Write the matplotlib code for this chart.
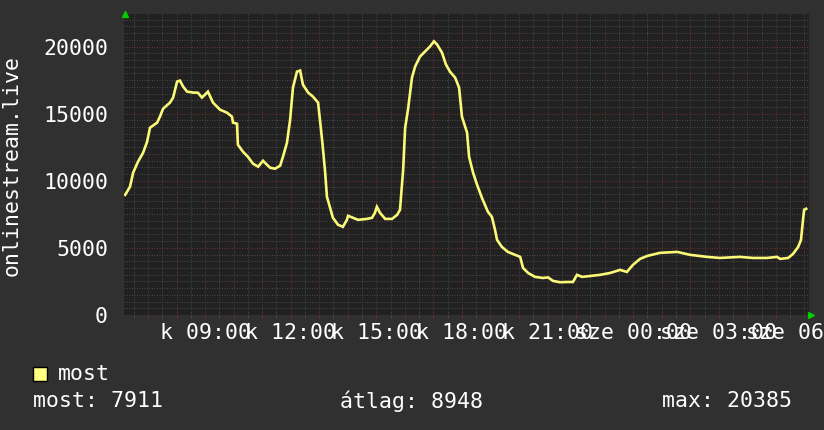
import matplotlib
matplotlib.use("Agg")
import matplotlib.pyplot as plt
from matplotlib.ticker import MultipleLocator, FixedLocator

# ---- data (hours since midnight of first day, viewers) ----
hours = [6.20, 6.37, 6.48, 6.65, 6.83, 6.97, 7.07, 7.32, 7.42, 7.53, 7.77, 7.88,
         8.02, 8.12, 8.23, 8.37, 8.58, 8.75, 8.89, 9.00, 9.10, 9.28, 9.52, 9.77,
         9.94, 9.98, 10.12, 10.15, 10.33, 10.50, 10.68, 10.86, 11.03, 11.17, 11.28,
         11.45, 11.63, 11.73, 11.87, 11.98, 12.08, 12.22, 12.33, 12.43, 12.61, 12.78,
         12.96, 13.10, 13.20, 13.27, 13.38, 13.48, 13.66, 13.83, 13.97, 14.01, 14.18,
         14.36, 14.67, 14.85, 14.95, 15.02, 15.13, 15.31, 15.55, 15.73, 15.83, 15.94,
         16.01, 16.11, 16.25, 16.36, 16.53, 16.71, 16.88, 17.02, 17.13, 17.30, 17.44,
         17.58, 17.76, 17.90, 18.00, 18.18, 18.25, 18.39, 18.53, 18.70, 18.91, 19.05,
         19.16, 19.23, 19.40, 19.61, 19.86, 20.04, 20.14, 20.32, 20.56, 20.84, 21.02,
         21.19, 21.44, 21.68, 21.89, 22.03, 22.21, 22.49, 22.84, 23.19, 23.54, 23.78,
         23.99, 24.24, 24.49, 24.94, 25.54, 26.00, 26.59, 27.04, 27.74, 28.20, 28.69,
         29.04, 29.15, 29.43, 29.60, 29.78, 29.88, 29.95, 29.99, 30.06]
values = [8950, 9550, 10600, 11420, 12090, 12910, 13950, 14330, 14780, 15370, 15820, 16190,
          17390, 17460, 17020, 16640, 16570, 16560, 16200, 16420, 16640, 15820, 15300, 15070,
          14780, 14330, 14250, 12690, 12160, 11790, 11270, 11050, 11490, 11190, 10970,
          10900, 11120, 11790, 12840, 14550, 16940, 18130, 18210, 17160, 16570, 16270,
          15820, 13060, 10820, 8810, 7990, 7240, 6720, 6570, 7090, 7390, 7240,
          7090, 7160, 7240, 7610, 8060, 7610, 7160, 7160, 7460, 7840, 10820,
          13950, 15300, 17690, 18510, 19250, 19630, 20000, 20385, 20150, 19550, 18660,
          18130, 17690, 16940, 14780, 13580, 11790, 10600, 9700, 8730, 7690, 7310,
          6340, 5600, 5070, 4700, 4480, 4330, 3510, 3130, 2840, 2760, 2800,
          2540, 2440, 2460, 2460, 2990, 2840, 2910, 2990, 3130, 3360, 3210,
          3730, 4180, 4400, 4630, 4700, 4480, 4330, 4250, 4330, 4250, 4250,
          4330, 4180, 4250, 4550, 5070, 5600, 7090, 7840, 7911]

x_start, x_end = 6.16, 30.16
y_max = 22423.5
y_ticks = [0, 5000, 10000, 15000, 20000]
x_label_hours = [9, 12, 15, 18, 21, 24, 27, 30]
x_labels = ["k 09:00", "k 12:00", "k 15:00", "k 18:00", "k 21:00",
            "sze 00:00", "sze 03:00", "sze 06:00"]
series_name = "most"
y_title = "onlinestream.live"
stats = [("most: 7911", 33), ("átlag: 8948", 340), ("max: 20385", 662)]

# ---- styling ----
W, H = 824, 430
CANVAS = "#303030"
BACK = "#212121"
FONT = "#ffffff"
LINE = "#fafa78"
MINOR = "#474747"
MAJOR = "#6a2e2e"
FS = 15.5
plt.rcParams["font.family"] = ["DejaVu Sans Mono"]

fig = plt.figure(figsize=(W / 100, H / 100), dpi=100, facecolor=CANVAS)
L, R, T, B = 124, 809, 14, 315
ax = fig.add_axes([L / W, 1 - B / H, (R - L) / W, (B - T) / H], facecolor=BACK)

ax.plot(hours, values, color=LINE, lw=1.9, zorder=3, solid_joinstyle="miter")
ax.set_xlim(x_start, x_end)
ax.set_ylim(0, y_max)

# grid
ax.xaxis.set_major_locator(MultipleLocator(1))
ax.xaxis.set_minor_locator(MultipleLocator(0.5))
ax.yaxis.set_major_locator(FixedLocator(y_ticks))
ax.yaxis.set_minor_locator(MultipleLocator(500))
ax.grid(which="minor", color=MINOR, lw=0.72, ls=(0, (1, 1.5)))
ax.grid(which="major", color=MAJOR, lw=0.72, ls=(0, (1, 1.5)))
ax.set_axisbelow(True)

ax.set_xticklabels([])
ax.tick_params(axis="x", which="major", length=2.2, width=0.72, color=MAJOR, labelbottom=False)
ax.tick_params(axis="x", which="minor", length=2.2, width=0.72, color=MINOR)
ax.tick_params(axis="y", which="both", length=0, labelsize=FS, labelcolor=FONT, pad=11.5)
ax.set_yticklabels([str(v) for v in y_ticks])
for s in ax.spines.values():
    s.set_visible(False)

# x labels (centered on their hours, overlapping like the original)
for h, lab in zip(x_label_hours, x_labels):
    ax.text(h, -0.027, lab, transform=ax.get_xaxis_transform(), ha="center", va="top",
            fontsize=FS, color=FONT, clip_on=False)

# arrows
ax.plot([x_start + 0.03], [y_max], marker="^", color="#00cc00", ms=5, clip_on=False, zorder=5)
ax.plot([x_end + 0.07], [0], marker=">", color="#00cc00", ms=5, clip_on=False, zorder=5)

# y title
fig.text(12 / W, 1 - 165 / H, y_title, rotation=90, ha="center", va="center",
         fontsize=FS, color=FONT)

# legend
fig.patches.append(plt.Rectangle((33 / W, 1 - 381 / H), 14 / W, 14 / H, transform=fig.transFigure,
                                 facecolor="#ffff80", edgecolor="#000000", lw=1))
fig.text(58 / W, 1 - 374 / H, series_name, ha="left", va="center", fontsize=FS, color=FONT)

for txt, xp in stats:
    fig.text(xp / W, 1 - 401 / H, txt, ha="left", va="center", fontsize=FS, color=FONT)

fig.savefig("out.png", dpi=100, facecolor=CANVAS)
